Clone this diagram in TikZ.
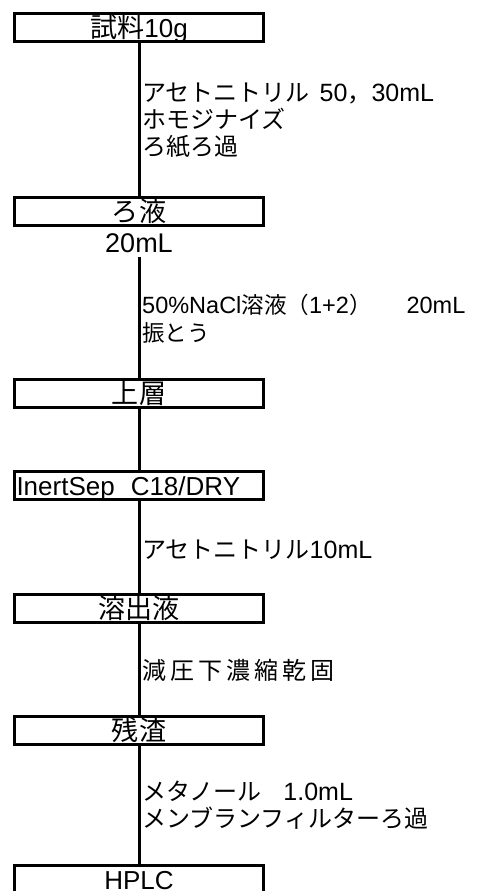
\documentclass[tikz,border=0pt]{standalone}
\usepackage{fontspec}
\setmainfont{Liberation Sans}
\newfontfamily\jp{Noto Sans CJK JP}[Scale=0.96]
\newfontfamily\jpb{Noto Sans CJK JP}[Scale=1.04]
\newcommand{\J}[1]{{\jp #1}}
\newcommand{\JB}[1]{{\jpb #1}}
\begin{document}
\begin{tikzpicture}[x=1pt,y=-1pt,font=\fontsize{25}{27}\selectfont,
  stepbox/.style={draw, line width=3pt, minimum width=249pt, minimum height=28pt,
    inner ysep=0pt, text height=20pt, text depth=0pt, anchor=center,
    font=\fontsize{26}{28}\selectfont},
  conn/.style={line width=3pt},
  lbl/.style={anchor=base west, align=left, inner sep=0pt}]
\useasboundingbox (0,0) rectangle (478,891);
\clip (0,0) rectangle (478,891);
% boxes
\node[stepbox] (b1) at (139,27.5) {\JB{試料}10g};
\node[stepbox] (b2) at (139,211) {\JB{ろ液}};
\node[anchor=center, inner xsep=0pt, inner ysep=4pt, text height=20pt, text depth=0pt,
  font=\fontsize{27}{29}\selectfont] (v20) at (139,242.5) {20mL};
\node[stepbox] (b3) at (139,393.5) {\JB{上層}};
\node[stepbox, text width=245pt, align=left, inner xsep=2pt] (b4) at (139,485.5) {InertSep\hspace{16pt}C18/DRY};
\node[stepbox] (b5) at (139,608) {\JB{溶出液}};
\node[stepbox] (b6) at (139,730) {\JB{残渣}};
\node[stepbox] (b7) at (139,879.5) {HPLC};
% connectors
\draw[conn] (b1.south) -- (b2.north);
\draw[conn] (v20.south) -- (b3.north);
\draw[conn] (b3.south) -- (b4.north);
\draw[conn] (b4.south) -- (b5.north);
\draw[conn] (b5.south) -- (b6.north);
\draw[conn] (b6.south) -- (b7.north);
% labels (base anchor = baseline of last line)
\node[lbl] (l1) at (142,155.5) {\J{アセトニトリル}\hspace{10pt}50\J{，}30mL\\\J{ホモジナイズ}\\\J{ろ紙ろ過}};
\node[lbl, font=\fontsize{23.5}{28}\selectfont] (l2) at (142,341) {50\%NaCl\J{溶液（}1+2\J{）}\hspace{35pt}20mL\\\J{振とう}};
\node[lbl] (l3) at (142,558) {\J{アセトニトリル}10mL};
\node[lbl] (l4) at (142,679) {\J{減\hspace{4pt}圧\hspace{4pt}下\hspace{4pt}濃\hspace{4pt}縮\hspace{4pt}乾\hspace{4pt}固}};
\node[lbl] (l5) at (142,827) {\J{メタノール}\hspace{22pt}1.0mL\\\J{メンブランフィルターろ過}};
\end{tikzpicture}
\end{document}
